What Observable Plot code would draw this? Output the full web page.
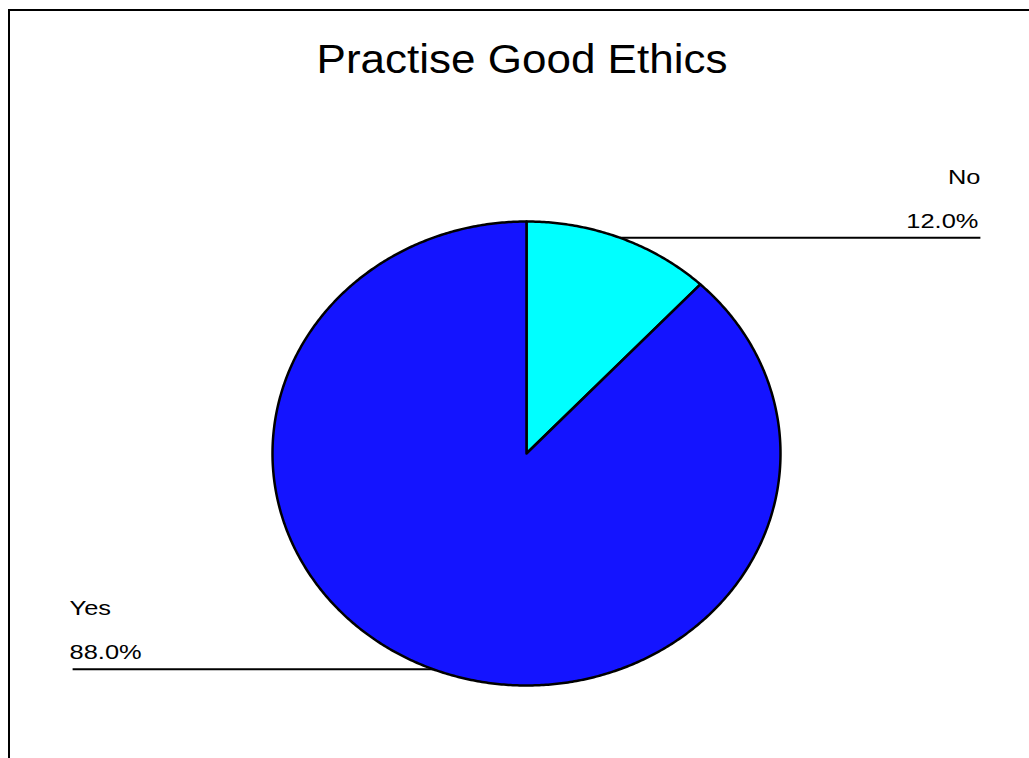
<!DOCTYPE html>
<html>
<head>
<meta charset="utf-8">
<script src="https://cdn.jsdelivr.net/npm/d3@7"></script>
<script src="https://cdn.jsdelivr.net/npm/@observablehq/plot@0.6"></script>
<style>
  html, body { margin: 0; padding: 0; background: #ffffff; }
  #wrap { position: relative; width: 1029px; height: 758px; overflow: hidden; background: #fff; }
  #frame { position: absolute; left: 8px; top: 9px; width: 1200px; height: 900px;
           border-left: 2px solid #000; border-top: 2px solid #000; box-sizing: border-box; }
  #title { position: absolute; left: 522px; top: 39px; transform: translateX(-50%) scaleX(1.1);
           font-family: "Liberation Sans", Arial, sans-serif; font-size: 40px; line-height: 40px;
           color: #000; white-space: nowrap; }
  #chart { position: absolute; left: 0; top: 0; }
</style>
</head>
<body>
<div id="wrap">
  <div id="frame"></div>
  <div id="title">Practise Good Ethics</div>
  <div id="chart"></div>
</div>
<script>
// ---- data ----
const categories = ["No", "Yes"];
const values = [12.0, 88.0];
const sliceColors = ["#00ffff", "#1414ff"];
const labelReach = 1.787; // leader line reach, in pie radii

// ---- derived geometry (data units: pie radius = 1) ----
const total = d3.sum(values);
let acc = 0;
const slices = categories.map((c, i) => {
  const a0 = acc / total * 2 * Math.PI;
  acc += values[i];
  const a1 = acc / total * 2 * Math.PI;
  return {category: c, value: values[i], color: sliceColors[i], a0, a1};
});

function slicePoints(s) {
  const pts = [{x: 0, y: 0}];
  const n = Math.max(2, Math.ceil((s.a1 - s.a0) / (Math.PI / 360)));
  for (let k = 0; k <= n; k++) {
    const a = s.a0 + (s.a1 - s.a0) * k / n;
    pts.push({x: Math.sin(a), y: Math.cos(a)});
  }
  return pts;
}

const leaders = slices.map(s => {
  const m = (s.a0 + s.a1) / 2;
  const x = Math.sin(m), y = Math.cos(m);
  const right = x >= 0;
  return {x1: x, y1: y, x2: right ? labelReach : -labelReach, right,
          name: s.category, pct: s.value.toFixed(1) + "%"};
});
const rightLabels = leaders.filter(d => d.right);
const leftLabels = leaders.filter(d => !d.right);

const sliceMarks = slices.map(s =>
  Plot.line(slicePoints(s), {
    x: "x", y: "y", curve: "linear-closed",
    fill: s.color, stroke: "#000", strokeWidth: 2.5, strokeLinejoin: "round"
  })
);

const chart = Plot.plot({
  width: 1029,
  height: 758,
  x: {domain: [-1, 1], range: [272, 780], axis: null},
  y: {domain: [-1, 1], range: [685, 221], axis: null},
  style: {fontFamily: "'Liberation Sans', Arial, sans-serif", fontSize: "20px",
          background: "transparent", overflow: "visible"},
  marks: [
    ...sliceMarks,
    Plot.link(leaders, {x1: "x1", y1: "y1", x2: "x2", y2: "y1", stroke: "#000", strokeWidth: 2}),
    Plot.text(rightLabels, {x: "x2", y: "y1", text: "pct", textAnchor: "end", dx: -2, dy: -16.4, fontSize: 20, fill: "#000"}),
    Plot.text(rightLabels, {x: "x2", y: "y1", text: "name", textAnchor: "end", dx: 0, dy: -60.4, fontSize: 20, fill: "#000"}),
    Plot.text(leftLabels, {x: "x2", y: "y1", text: "pct", textAnchor: "start", dx: -3, dy: -16.4, fontSize: 20, fill: "#000"}),
    Plot.text(leftLabels, {x: "x2", y: "y1", text: "name", textAnchor: "start", dx: -3, dy: -60.4, fontSize: 20, fill: "#000"})
  ]
});
// widen label glyphs horizontally about their anchor, like the reference rendering
chart.querySelectorAll("text").forEach(t => {
  const tr = t.getAttribute("transform") || "";
  t.setAttribute("transform", (tr + " scale(1.27,1)").trim());
});
document.getElementById("chart").appendChild(chart);
</script>
</body>
</html>
